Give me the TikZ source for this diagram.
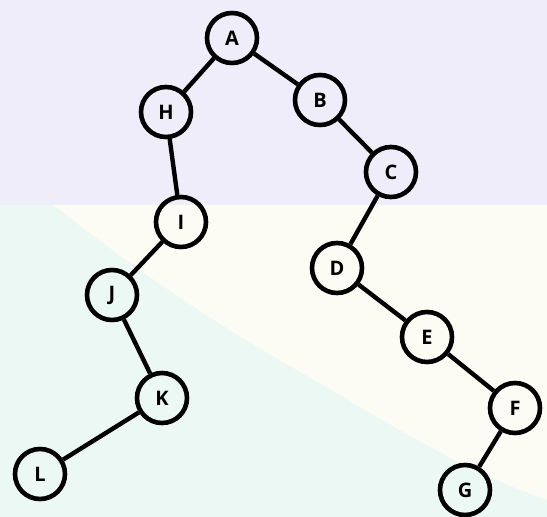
\documentclass[tikz,border=0pt]{standalone}
\usepackage{fontspec}
\setmainfont{Open Sans}
\tikzset{
  tnode/.style={circle, draw=black, line width=4.6pt, minimum size=50pt, inner sep=0pt,
    font=\fontsize{20}{20}\selectfont\bfseries, text=black},
  tedge/.style={line width=4.4pt, draw=black}
}
\definecolor{lav}{HTML}{EFEDFA}
\definecolor{cream}{HTML}{FDFCF4}
\definecolor{mint}{HTML}{ECF8F3}
\begin{document}
\begin{tikzpicture}[x=1pt,y=-1pt]
\useasboundingbox (0,0) rectangle (547,517);
\fill[lav] (0,0) rectangle (547,205);
\fill[cream] (0,205) rectangle (547,517);
\fill[mint] (0,205) -- (53,205) .. controls (130,265) and (200,315) .. (300,372)
  .. controls (380,418) and (460,470) .. (547,500) -- (547,517) -- (0,517) -- cycle;
\node[tnode] (A) at (232,38) {A};
\node[tnode] (H) at (166,112) {H};
\node[tnode] (B) at (320,100) {B};
\node[tnode] (C) at (391,172) {C};
\node[tnode] (I) at (181,222) {I};
\node[tnode] (D) at (337,268) {D};
\node[tnode] (J) at (112,295) {J};
\node[tnode] (E) at (427,337) {E};
\node[tnode] (K) at (162,398) {K};
\node[tnode] (F) at (515,408) {F};
\node[tnode] (L) at (40,474) {L};
\node[tnode] (G) at (465,490) {G};
\draw[tedge] (A) -- (H);
\draw[tedge] (A) -- (B);
\draw[tedge] (B) -- (C);
\draw[tedge] (C) -- (D);
\draw[tedge] (H) -- (I);
\draw[tedge] (I) -- (J);
\draw[tedge] (J) -- (K);
\draw[tedge] (K) -- (L);
\draw[tedge] (D) -- (E);
\draw[tedge] (E) -- (F);
\draw[tedge] (F) -- (G);
\end{tikzpicture}
\end{document}
